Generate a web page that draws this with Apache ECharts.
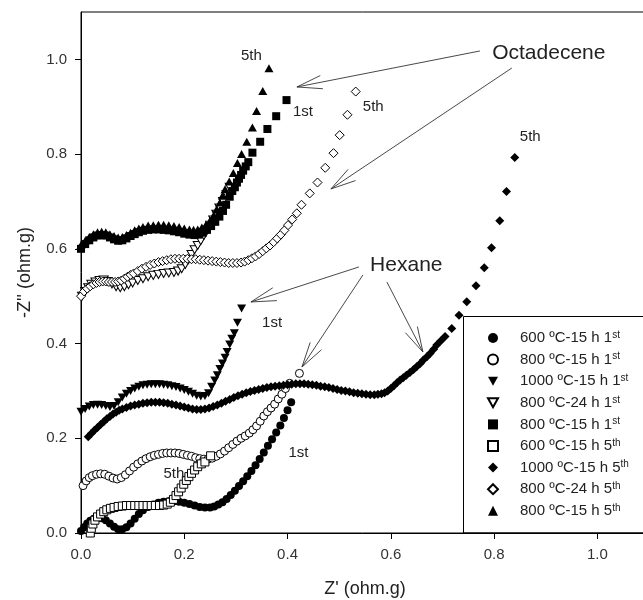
<!DOCTYPE html>
<html><head><meta charset="utf-8">
<script src="https://cdn.jsdelivr.net/npm/echarts@6/dist/echarts.min.js"></script>
<style>html,body{margin:0;padding:0;background:#fff}#c{width:643px;height:600px}</style>
</head><body><div id="c"></div>
<script>
// ---- data (Z', -Z'') ----
const s600_15_1st = [[0.000,0.004],[0.006,0.012],[0.012,0.020],[0.018,0.026],[0.025,0.030],[0.032,0.032],[0.040,0.031],[0.048,0.027],[0.056,0.020],[0.064,0.013],[0.072,0.008],[0.080,0.008],[0.088,0.012],[0.096,0.020],[0.104,0.030],[0.112,0.040],[0.120,0.048],[0.130,0.055],[0.140,0.060],[0.150,0.064],[0.160,0.066],[0.170,0.067],[0.180,0.067],[0.190,0.066],[0.200,0.064],[0.210,0.061],[0.220,0.058],[0.230,0.055],[0.240,0.054],[0.250,0.054],[0.258,0.056],[0.266,0.060],[0.274,0.065],[0.282,0.072],[0.290,0.080],[0.298,0.089],[0.306,0.099],[0.314,0.109],[0.322,0.120],[0.330,0.131],[0.338,0.143],[0.346,0.156],[0.354,0.170],[0.362,0.184],[0.370,0.198],[0.378,0.212],[0.386,0.227],[0.393,0.243],[0.400,0.259],[0.407,0.276]];
const s800_15_1st_o = [[0.004,0.100],[0.010,0.110],[0.016,0.117],[0.022,0.121],[0.030,0.124],[0.038,0.125],[0.046,0.124],[0.054,0.120],[0.062,0.116],[0.070,0.114],[0.078,0.117],[0.086,0.123],[0.094,0.131],[0.102,0.139],[0.110,0.146],[0.118,0.152],[0.126,0.157],[0.134,0.161],[0.142,0.164],[0.150,0.166],[0.158,0.168],[0.166,0.169],[0.174,0.169],[0.182,0.169],[0.190,0.168],[0.198,0.166],[0.206,0.164],[0.214,0.162],[0.222,0.159],[0.230,0.157],[0.238,0.156],[0.246,0.156],[0.254,0.158],[0.262,0.162],[0.270,0.167],[0.278,0.173],[0.286,0.180],[0.294,0.187],[0.302,0.194],[0.310,0.200],[0.318,0.205],[0.326,0.211],[0.333,0.218],[0.340,0.226],[0.347,0.236],[0.354,0.247],[0.361,0.256],[0.368,0.264],[0.375,0.272],[0.382,0.283],[0.389,0.293],[0.396,0.305],[0.404,0.316],[0.423,0.337]];
const s1000_15_1st = [[0.000,0.256],[0.008,0.262],[0.016,0.267],[0.024,0.270],[0.032,0.271],[0.040,0.270],[0.048,0.268],[0.056,0.266],[0.064,0.268],[0.072,0.276],[0.080,0.286],[0.088,0.294],[0.096,0.300],[0.104,0.305],[0.112,0.309],[0.120,0.312],[0.128,0.313],[0.136,0.314],[0.144,0.314],[0.152,0.314],[0.160,0.313],[0.168,0.312],[0.176,0.310],[0.184,0.308],[0.192,0.305],[0.200,0.302],[0.208,0.298],[0.216,0.294],[0.224,0.290],[0.232,0.288],[0.240,0.289],[0.247,0.295],[0.253,0.309],[0.259,0.322],[0.264,0.333],[0.269,0.346],[0.274,0.358],[0.279,0.370],[0.283,0.382],[0.288,0.398],[0.292,0.410],[0.297,0.422],[0.303,0.444],[0.311,0.474]];
const s800_24_1st = [[0.002,0.500],[0.008,0.510],[0.014,0.518],[0.020,0.525],[0.028,0.530],[0.036,0.533],[0.044,0.534],[0.052,0.531],[0.060,0.526],[0.068,0.520],[0.076,0.518],[0.084,0.520],[0.092,0.524],[0.100,0.528],[0.110,0.533],[0.120,0.537],[0.130,0.541],[0.140,0.544],[0.150,0.546],[0.160,0.548],[0.170,0.549],[0.180,0.550],[0.188,0.553],[0.195,0.558],[0.202,0.567],[0.208,0.577],[0.214,0.588],[0.220,0.598],[0.226,0.607],[0.232,0.617],[0.238,0.628],[0.244,0.639],[0.250,0.650],[0.256,0.661],[0.262,0.673],[0.268,0.686],[0.275,0.700],[0.282,0.715],[0.288,0.730]];
const s800_15_1st = [[0.000,0.600],[0.008,0.610],[0.016,0.618],[0.024,0.624],[0.032,0.628],[0.040,0.629],[0.048,0.628],[0.056,0.624],[0.064,0.620],[0.072,0.617],[0.080,0.618],[0.088,0.622],[0.096,0.627],[0.104,0.631],[0.112,0.635],[0.120,0.638],[0.130,0.640],[0.140,0.641],[0.150,0.641],[0.160,0.640],[0.170,0.639],[0.180,0.637],[0.190,0.635],[0.200,0.632],[0.210,0.630],[0.220,0.629],[0.228,0.630],[0.236,0.634],[0.244,0.640],[0.252,0.648],[0.260,0.657],[0.268,0.668],[0.275,0.680],[0.281,0.693],[0.288,0.710],[0.293,0.722],[0.298,0.730],[0.302,0.740],[0.306,0.748],[0.310,0.756],[0.314,0.765],[0.319,0.774],[0.324,0.783],[0.332,0.803],[0.347,0.826],[0.361,0.853],[0.378,0.880],[0.398,0.914]];
const s600_15_5th = [[0.018,0.000],[0.020,0.010],[0.023,0.019],[0.027,0.027],[0.032,0.034],[0.038,0.040],[0.044,0.045],[0.050,0.049],[0.057,0.052],[0.064,0.054],[0.072,0.056],[0.080,0.057],[0.088,0.058],[0.096,0.058],[0.104,0.058],[0.112,0.058],[0.120,0.058],[0.128,0.058],[0.136,0.058],[0.144,0.058],[0.152,0.058],[0.160,0.059],[0.167,0.061],[0.173,0.065],[0.179,0.071],[0.184,0.079],[0.189,0.087],[0.194,0.095],[0.199,0.103],[0.204,0.111],[0.209,0.119],[0.214,0.126],[0.220,0.133],[0.226,0.140],[0.233,0.146],[0.240,0.150],[0.251,0.163]];
const s1000_15_5th = [[0.014,0.203],[0.020,0.210],[0.026,0.217],[0.032,0.223],[0.038,0.229],[0.044,0.235],[0.050,0.241],[0.056,0.246],[0.062,0.251],[0.068,0.255],[0.074,0.259],[0.080,0.262],[0.088,0.265],[0.096,0.268],[0.104,0.270],[0.112,0.272],[0.120,0.274],[0.128,0.275],[0.136,0.276],[0.144,0.276],[0.152,0.276],[0.160,0.275],[0.168,0.274],[0.176,0.272],[0.184,0.270],[0.192,0.268],[0.200,0.266],[0.208,0.264],[0.216,0.262],[0.224,0.261],[0.232,0.261],[0.240,0.262],[0.248,0.264],[0.256,0.267],[0.264,0.270],[0.272,0.274],[0.280,0.278],[0.288,0.282],[0.296,0.286],[0.304,0.290],[0.312,0.293],[0.320,0.296],[0.328,0.299],[0.336,0.301],[0.344,0.303],[0.352,0.305],[0.360,0.307],[0.368,0.309],[0.376,0.310],[0.384,0.311],[0.392,0.312],[0.400,0.313],[0.408,0.314],[0.416,0.315],[0.424,0.315],[0.432,0.315],[0.440,0.314],[0.448,0.313],[0.456,0.312],[0.464,0.310],[0.472,0.309],[0.480,0.307],[0.488,0.305],[0.496,0.303],[0.504,0.301],[0.512,0.300],[0.520,0.298],[0.528,0.296],[0.536,0.295],[0.544,0.294],[0.552,0.293],[0.560,0.292],[0.568,0.292],[0.575,0.293],[0.582,0.294],[0.588,0.296],[0.594,0.300],[0.600,0.305],[0.606,0.311],[0.612,0.317],[0.618,0.323],[0.624,0.328],[0.630,0.333],[0.637,0.339],[0.644,0.345],[0.650,0.351],[0.657,0.358],[0.663,0.365],[0.670,0.372],[0.676,0.379],[0.683,0.388],[0.689,0.397],[0.697,0.406],[0.705,0.415],[0.718,0.432],[0.732,0.460],[0.747,0.488],[0.765,0.522],[0.781,0.560],[0.795,0.602],[0.811,0.659],[0.824,0.721],[0.840,0.793]];
const s800_24_5th = [[0.000,0.500],[0.006,0.510],[0.012,0.516],[0.018,0.521],[0.024,0.525],[0.030,0.528],[0.036,0.530],[0.042,0.531],[0.048,0.531],[0.054,0.530],[0.060,0.530],[0.066,0.530],[0.072,0.531],[0.078,0.533],[0.084,0.537],[0.090,0.541],[0.096,0.545],[0.102,0.548],[0.110,0.553],[0.118,0.558],[0.126,0.562],[0.134,0.566],[0.142,0.569],[0.150,0.572],[0.158,0.574],[0.166,0.576],[0.174,0.578],[0.182,0.579],[0.190,0.579],[0.198,0.579],[0.206,0.579],[0.214,0.578],[0.222,0.578],[0.230,0.577],[0.238,0.576],[0.246,0.575],[0.254,0.574],[0.262,0.573],[0.270,0.572],[0.278,0.571],[0.286,0.570],[0.294,0.570],[0.302,0.570],[0.310,0.571],[0.317,0.573],[0.324,0.576],[0.331,0.580],[0.338,0.584],[0.345,0.589],[0.352,0.595],[0.359,0.601],[0.366,0.607],[0.373,0.614],[0.380,0.622],[0.387,0.630],[0.394,0.639],[0.401,0.650],[0.409,0.662],[0.418,0.675],[0.427,0.693],[0.443,0.717],[0.458,0.740],[0.473,0.771],[0.489,0.802],[0.501,0.840],[0.516,0.883],[0.532,0.932]];
const s800_15_5th = [[0.000,0.608],[0.008,0.617],[0.016,0.625],[0.024,0.631],[0.032,0.635],[0.040,0.636],[0.048,0.635],[0.056,0.631],[0.064,0.627],[0.072,0.624],[0.080,0.625],[0.088,0.629],[0.096,0.634],[0.104,0.639],[0.112,0.643],[0.120,0.646],[0.130,0.649],[0.140,0.650],[0.150,0.651],[0.160,0.651],[0.170,0.650],[0.180,0.648],[0.190,0.646],[0.200,0.643],[0.210,0.641],[0.218,0.640],[0.226,0.641],[0.234,0.645],[0.242,0.651],[0.250,0.660],[0.257,0.671],[0.263,0.684],[0.269,0.698],[0.274,0.712],[0.279,0.726],[0.287,0.742],[0.295,0.760],[0.303,0.781],[0.311,0.800],[0.321,0.826],[0.332,0.856],[0.340,0.891],[0.352,0.933],[0.364,0.981]];

const seriesNames = ['600 ºC-15 h 1st','800 ºC-15 h 1st','1000 ºC-15 h 1st','800 ºC-24 h 1st','800 ºC-15 h 1st ','600 ºC-15 h 5th','1000 ºC-15 h 5th','800 ºC-24 h 5th','800 ºC-15 h 5th'];
const seriesData = [s600_15_1st, s800_15_1st_o, s1000_15_1st, s800_24_1st, s800_15_1st, s600_15_5th, s1000_15_5th, s800_24_5th, s800_15_5th];
const xTicks = [0, 0.2, 0.4, 0.6, 0.8, 1.0];
const yTicks = [0, 0.2, 0.4, 0.6, 0.8, 1.0];
const xTitle = "Z' (ohm.g)";
const yTitle = "-Z'' (ohm.g)";
// annotation texts (data coords)
const smallLabels = [['5th',0.330,1.008],['1st',0.430,0.889],['5th',0.566,0.900],['5th',0.870,0.837],['1st',0.370,0.443],['1st',0.421,0.169],['5th',0.180,0.125]];
const bigLabels = [['Octadecene',0.906,1.013],['Hexane',0.630,0.566]];
// arrows: [fromX, fromY, toX, toY]
const arrows = [[0.7725,1.0177,0.4182,0.9417],[0.8345,0.9818,0.4840,0.7264],[0.5382,0.5617,0.3291,0.4878],[0.5460,0.5448,0.4279,0.3505],[0.5924,0.5300,0.6621,0.3822]];

// ---- styles ----
const FONT = 'Liberation Sans, Arial, sans-serif';
const DOWN = 'path://M0,0L10,0L5,9Z';
const styles = [
  {symbol:'circle', size:8, fill:'#000'},
  {symbol:'circle', size:8, fill:'#fff'},
  {symbol:DOWN, size:[9,8], fill:'#000'},
  {symbol:DOWN, size:[9,8], fill:'#fff'},
  {symbol:'rect', size:8, fill:'#000'},
  {symbol:'rect', size:8, fill:'#fff'},
  {symbol:'diamond', size:9, fill:'#000'},
  {symbol:'diamond', size:9, fill:'#fff'},
  {symbol:'triangle', size:[9,8], fill:'#000'}
];

const chart = echarts.init(document.getElementById('c'), null, {renderer:'canvas'});
const series = seriesData.map((d, i) => ({
  name: seriesNames[i], type: 'scatter', data: d,
  symbol: styles[i].symbol, symbolSize: styles[i].size,
  itemStyle: {color: styles[i].fill, borderColor: '#000', borderWidth: styles[i].fill === '#fff' ? 1 : 0, opacity: 1},
  emphasis: {disabled: true}, silent: true
}));

const axisCommon = {
  type: 'value', min: 0, max: 1.1,
  splitLine: {show: false},
  axisLine: {show: true, onZero: false, lineStyle: {color: '#000', width: 1}},
  axisTick: {show: true, inside: false, length: 6, lineStyle: {color: '#000'}},
  nameLocation: 'middle',
  nameTextStyle: {fontFamily: FONT, fontSize: 18, color: '#222'}
};

const option = {
  animation: false,
  backgroundColor: '#fff',
  grid: {left: 81, top: 12, width: 568, height: 521, show: true, borderColor: '#000', borderWidth: 1, containLabel: false, outerBoundsMode: 'none'},
  xAxis: Object.assign({}, axisCommon, {
    name: xTitle, nameGap: 47,
    axisTick: Object.assign({}, axisCommon.axisTick, {customValues: xTicks}),
    axisLabel: {customValues: xTicks, formatter: v => v.toFixed(1), margin: 14, fontFamily: FONT, fontSize: 15, color: '#333'}
  }),
  yAxis: Object.assign({}, axisCommon, {
    name: yTitle, nameGap: 47,
    axisTick: Object.assign({}, axisCommon.axisTick, {customValues: yTicks}),
    axisLabel: {customValues: yTicks, formatter: v => v.toFixed(1), margin: 14, fontFamily: FONT, fontSize: 15, color: '#333'}
  }),
  legend: {
    orient: 'vertical', left: 487, top: 330, padding: 0,
    itemWidth: 10, itemHeight: 10, itemGap: 5.6,
    selectedMode: false,
    data: seriesNames,
    formatter: n => { const t = n.trim(); return '{g|}{n|' + t.slice(0, -2) + '}{s|' + t.slice(-2) + '}'; },
    textStyle: {
      fontFamily: FONT, fontSize: 15, color: '#222',
      rich: {
        g: {width: 17, height: 16},
        n: {fontFamily: FONT, fontSize: 15, lineHeight: 16, color: '#222'},
        s: {fontFamily: FONT, fontSize: 10, lineHeight: 16, verticalAlign: 'top', color: '#222', padding: [0,0,6,0]}
      }
    }
  },
  series: series
};
chart.setOption(option);

// annotations placed via the grid's coordinate system
const P = (x, y) => chart.convertToPixel({gridIndex: 0}, [x, y]);
const graphics = [];
graphics.push({type: 'rect', shape: {x: 463.5, y: 316.5, width: 200, height: 216.5}, style: {fill: 'none', stroke: '#000', lineWidth: 1}, z: 3, silent: true});
smallLabels.forEach(l => {
  const p = P(l[1], l[2]);
  graphics.push({type: 'text', x: p[0], y: p[1], style: {text: l[0], font: '15px ' + FONT, fill: '#222', align: 'center', verticalAlign: 'middle', textAlign: 'center', textVerticalAlign: 'middle'}, z: 5, silent: true});
});
bigLabels.forEach(l => {
  const p = P(l[1], l[2]);
  graphics.push({type: 'text', x: p[0], y: p[1], style: {text: l[0], font: '21px ' + FONT, fill: '#222', align: 'center', verticalAlign: 'middle', textAlign: 'center', textVerticalAlign: 'middle'}, z: 5, silent: true});
});
arrows.forEach(a => {
  const f = P(a[0], a[1]), t = P(a[2], a[3]);
  const ang = Math.atan2(f[1] - t[1], f[0] - t[0]);
  const L = 26, h = 15 * Math.PI / 180;
  const p1 = [t[0] + L * Math.cos(ang + h), t[1] + L * Math.sin(ang + h)];
  const p2 = [t[0] + L * Math.cos(ang - h), t[1] + L * Math.sin(ang - h)];
  graphics.push({type: 'polyline', shape: {points: [f, t]}, style: {stroke: '#333', lineWidth: 0.9, fill: 'none'}, z: 5, silent: true});
  graphics.push({type: 'polyline', shape: {points: [p1, t, p2]}, style: {stroke: '#333', lineWidth: 0.9, fill: 'none'}, z: 5, silent: true});
});
chart.setOption({graphic: graphics});
</script>
</body></html>
